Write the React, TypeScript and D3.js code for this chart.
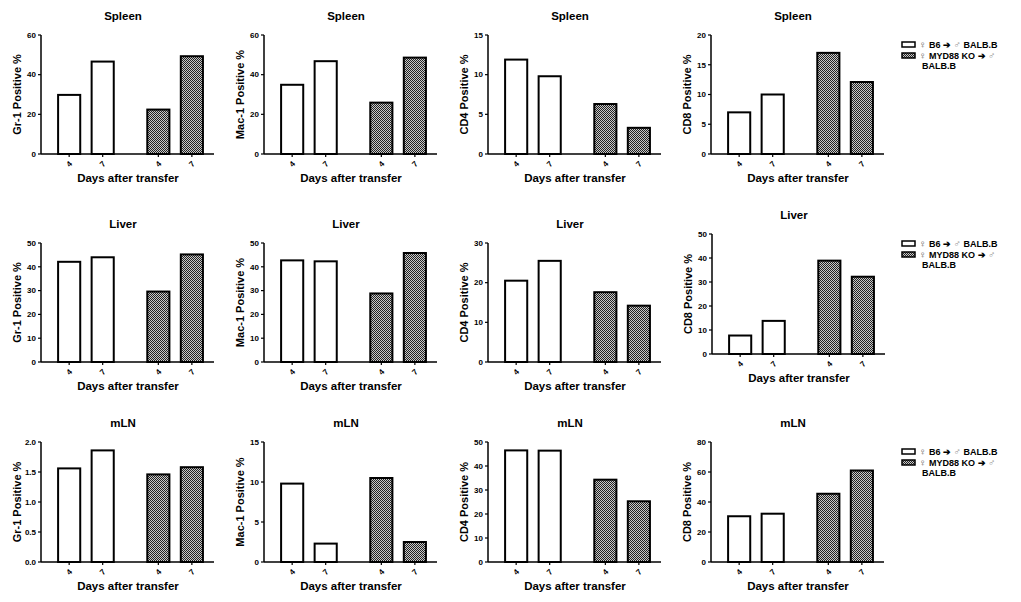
import React from "react";
import * as d3 from "d3";

// ---- data ----
const tissues = ["Spleen", "Liver", "mLN"];
const markers = ["Gr-1", "Mac-1", "CD4", "CD8"];
const dayLabels = ["4", "7", "4", "7"];
const barGroup = [0, 0, 1, 1];
const legendLabels = ["♀ B6 ➔ ♂ BALB.B", "♀ MYD88 KO ➔ ♂ BALB.B"];

const spleenGr1 = [29.8, 46.6, 22.4, 49.3];
const spleenMac1 = [34.9, 46.8, 25.9, 48.6];
const spleenCD4 = [11.9, 9.8, 6.3, 3.3];
const spleenCD8 = [7.0, 10.0, 17.0, 12.1];
const liverGr1 = [42.1, 44.0, 29.6, 45.2];
const liverMac1 = [42.7, 42.3, 28.8, 45.8];
const liverCD4 = [20.5, 25.5, 17.6, 14.2];
const liverCD8 = [7.7, 13.8, 38.9, 32.2];
const mlnGr1 = [1.56, 1.86, 1.46, 1.58];
const mlnMac1 = [9.8, 2.3, 10.5, 2.5];
const mlnCD4 = [46.5, 46.4, 34.3, 25.3];
const mlnCD8 = [30.5, 32.2, 45.5, 61.0];

const spleenMax = [60, 60, 15, 20];
const liverMax = [50, 50, 30, 50];
const mlnMax = [2, 15, 50, 80];
const spleenStep = [20, 20, 5, 5];
const liverStep = [10, 10, 10, 10];
const mlnStep = [0.5, 5, 10, 20];

const values = [
  [spleenGr1, spleenMac1, spleenCD4, spleenCD8],
  [liverGr1, liverMac1, liverCD4, liverCD8],
  [mlnGr1, mlnMac1, mlnCD4, mlnCD8],
];
const maxes = [spleenMax, liverMax, mlnMax];
const steps = [spleenStep, liverStep, mlnStep];

// ---- layout ----
const W = 1021;
const H = 602;
const colAxisX = [41, 264, 488, 711];
const rowTop = [35, 243, 442];
const rowZero = [154, 362, 562];
const slotPos = [0, 1, 2.66, 3.66];
const FONT = "'Liberation Sans', Arial, Helvetica, sans-serif";

function panelGeom(r: number, c: number) {
  let ax = colAxisX[c];
  let top = rowTop[r];
  let zero = rowZero[r];
  if (r === 1 && c === 3) {
    ax = 712;
    top = 234;
    zero = 354;
  }
  return { ax, top, zero };
}

function Panel({ r, c }: { r: number; c: number }) {
  const { ax, top, zero } = panelGeom(r, c);
  const x = d3.scaleLinear().domain([-0.84, 4.32]).range([ax, ax + 173]);
  const y = d3.scaleLinear().domain([0, maxes[r][c]]).range([zero, top]);
  const bw = x(0.66) - x(0);
  const st = steps[r][c];
  const ticks = d3.range(0, maxes[r][c] + st / 2, st);
  const fmt = st < 1 ? d3.format(".1f") : d3.format("d");
  const vals = values[r][c];
  return (
    <g>
      <text
        x={ax + 82}
        y={top - 15}
        textAnchor="middle"
        fontSize={11.5}
        fontWeight="bold"
        fontFamily={FONT}
      >
        {tissues[r]}
      </text>
      {vals.map((v, i) => (
        <rect
          key={i}
          x={x(slotPos[i]) - bw / 2}
          y={y(v)}
          width={bw}
          height={zero - y(v)}
          fill={barGroup[i] === 0 ? "#fff" : "url(#chk)"}
          stroke="#000"
          strokeWidth={2}
        />
      ))}
      <line x1={ax} x2={ax} y1={top} y2={zero} stroke="#000" strokeWidth={1.5} />
      <line x1={ax} x2={ax + 173} y1={zero} y2={zero} stroke="#000" strokeWidth={1.5} />
      {ticks.map((t, i) => (
        <g key={i}>
          <line x1={ax - 3} x2={ax} y1={y(t)} y2={y(t)} stroke="#000" strokeWidth={1.2} />
          <text
            x={ax - 5}
            y={y(t)}
            dy="0.35em"
            textAnchor="end"
            fontSize={8}
            fontWeight="bold"
            fontFamily={FONT}
          >
            {fmt(t)}
          </text>
        </g>
      ))}
      {dayLabels.map((d, i) => (
        <g key={i}>
          <line
            x1={x(slotPos[i])}
            x2={x(slotPos[i])}
            y1={zero}
            y2={zero + 3}
            stroke="#000"
            strokeWidth={1.2}
          />
          <text
            transform={`translate(${x(slotPos[i])},${zero + 10}) rotate(-45)`}
            textAnchor="middle"
            dy="0.35em"
            fontSize={8}
            fontWeight="bold"
            fontFamily={FONT}
          >
            {d}
          </text>
        </g>
      ))}
      <text
        x={ax + 87}
        y={zero + 28}
        textAnchor="middle"
        fontSize={11.5}
        fontWeight="bold"
        fontFamily={FONT}
      >
        Days after transfer
      </text>
      <text
        transform={`translate(${ax - 24},${(top + zero) / 2}) rotate(-90)`}
        textAnchor="middle"
        dy="0.35em"
        fontSize={11}
        fontWeight="bold"
        fontFamily={FONT}
      >
        {markers[c]} Positive %
      </text>
    </g>
  );
}

function Legend({ r }: { r: number }) {
  const { top } = panelGeom(r, 3);
  const y0 = top + 7;
  return (
    <g fontFamily={FONT} fontSize={9} fontWeight="bold">
      {legendLabels.map((lab, i) => {
        const by = y0 + i * 11;
        const [a, b] = lab.split(" ➔ ");
        const bParts = b.split(" ");
        const male = bParts[0];
        const rest = bParts.slice(1).join(" ");
        return (
          <g key={i}>
            <rect
              x={902}
              y={by}
              width={13}
              height={5}
              fill={i === 0 ? "#fff" : "url(#chk)"}
              stroke="#000"
              strokeWidth={1.5}
            />
            <text x={919} y={by + 5.5}>
              <tspan fontWeight="normal" fill="#555" fontSize={10}>{a.slice(0, 1)}</tspan>
              <tspan>{a.slice(1) + " ➔ "}</tspan>
              <tspan fontWeight="normal" fill="#888" fontSize={10}>{male}</tspan>
              {i === 0 ? <tspan>{" " + rest}</tspan> : null}
            </text>
            {i === 1 ? (
              <text x={922} y={by + 16}>
                {rest}
              </text>
            ) : null}
          </g>
        );
      })}
    </g>
  );
}

export default function App() {
  return (
    <svg
      width={W}
      height={H}
      style={{ position: "absolute", left: 0, top: 0, background: "#fff" }}
    >
      <defs>
        <pattern id="chk" width={2} height={2} patternUnits="userSpaceOnUse">
          <rect width={2} height={2} fill="#c8c8c8" />
          <rect width={1} height={1} fill="#222" />
          <rect x={1} y={1} width={1} height={1} fill="#222" />
        </pattern>
      </defs>
      <rect width={W} height={H} fill="#fff" />
      {tissues.map((_, r) =>
        markers.map((_, c) => <Panel key={`${r}-${c}`} r={r} c={c} />)
      )}
      {tissues.map((_, r) => (
        <Legend key={r} r={r} />
      ))}
    </svg>
  );
}
